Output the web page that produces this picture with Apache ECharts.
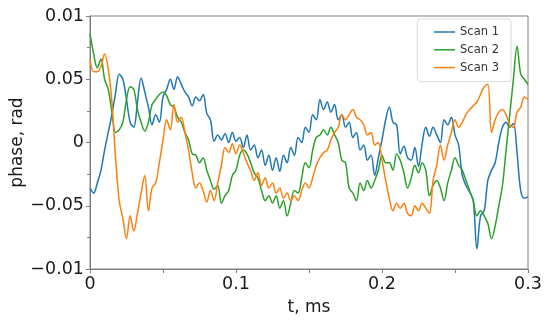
<!DOCTYPE html>
<html>
<head>
<meta charset="utf-8">
<script src="https://cdn.jsdelivr.net/npm/echarts@6/dist/echarts.min.js"></script>
<style>html,body{margin:0;padding:0;background:#fff}#c{width:550px;height:322px}</style>
</head>
<body>
<div id="c"></div>
<script>
// sampling grid of the curves (t, ms)
const tStart = 0, tStep = 0.0025, nPoints = 121;
const seriesNames = ['Scan 1', 'Scan 2', 'Scan 3'];
const seriesColors = ['#1f77b4', '#2ca02c', '#ff7f0e'];
const scan1 = [
-0.036,-0.040,-0.032,-0.022,-0.006,0.008,0.022,0.039,0.054,0.050,
0.034,0.016,0.012,0.032,0.051,0.040,0.028,0.014,0.022,0.016,
0.036,0.042,0.050,0.042,0.052,0.046,0.040,0.036,0.029,0.036,
0.033,0.038,0.023,0.018,0.001,0.006,0.002,0.007,0.000,0.008,
0.001,0.004,-0.004,0.006,-0.006,-0.002,-0.012,-0.006,-0.018,-0.010,
-0.022,-0.012,-0.023,-0.010,-0.016,-0.004,-0.010,0.004,0.000,0.012,
0.008,0.022,0.018,0.034,0.026,0.032,0.024,0.030,0.018,0.022,
0.012,0.016,0.004,0.008,-0.006,-0.002,-0.014,-0.010,-0.026,-0.012,
0.002,0.018,0.028,0.016,0.014,-0.009,-0.003,-0.012,-0.014,-0.004,
-0.019,-0.001,0.012,0.005,0.012,0.006,0.000,0.018,0.014,0.020,
0.006,-0.002,-0.026,-0.034,-0.039,-0.046,-0.084,-0.058,-0.054,-0.030,
-0.022,-0.016,0.000,0.012,0.016,0.012,0.015,-0.008,-0.038,-0.044,
-0.043];
const scan2 = [
0.086,0.070,0.059,0.066,0.050,0.042,0.024,0.008,0.010,0.016,
0.034,0.044,0.042,0.026,0.016,0.009,0.016,0.030,0.034,0.038,
0.040,0.037,0.030,0.028,0.020,0.016,0.008,0.002,-0.009,-0.010,
-0.016,-0.012,-0.022,-0.030,-0.037,-0.034,-0.048,-0.042,-0.038,-0.026,
-0.022,-0.010,-0.006,-0.009,-0.016,-0.024,-0.028,-0.038,-0.046,-0.042,
-0.048,-0.042,-0.052,-0.046,-0.058,-0.048,-0.038,-0.040,-0.028,-0.016,
-0.020,-0.006,0.004,0.006,0.010,0.006,0.012,0.006,0.000,-0.014,
-0.016,-0.036,-0.040,-0.046,-0.032,-0.038,-0.030,-0.036,-0.030,-0.022,
-0.010,-0.016,-0.016,-0.022,-0.009,-0.014,-0.024,-0.036,-0.028,-0.018,
-0.024,-0.016,-0.022,-0.042,-0.034,-0.030,-0.036,-0.046,-0.032,-0.022,
-0.012,-0.018,-0.022,-0.030,-0.038,-0.046,-0.058,-0.054,-0.058,-0.064,
-0.076,-0.066,-0.050,-0.034,-0.006,0.022,0.050,0.076,0.054,0.050,
0.046];
const scan3 = [
0.066,0.056,0.056,0.060,0.070,0.058,0.032,-0.012,-0.046,-0.060,
-0.076,-0.058,-0.070,-0.056,-0.040,-0.026,-0.054,-0.036,-0.032,-0.016,
0.002,0.018,0.010,0.030,0.016,0.020,0.008,-0.006,-0.024,-0.036,
-0.032,-0.038,-0.047,-0.038,-0.046,-0.032,-0.018,-0.004,-0.008,-0.001,
-0.009,-0.002,-0.008,-0.016,-0.022,-0.030,-0.024,-0.034,-0.028,-0.036,
-0.032,-0.040,-0.036,-0.044,-0.040,-0.046,-0.042,-0.046,-0.038,-0.032,
-0.036,-0.028,-0.018,-0.012,-0.008,-0.006,0.002,0.008,0.012,0.022,
0.018,0.022,0.026,0.020,0.018,0.014,0.006,0.008,-0.002,0.000,
-0.014,-0.030,-0.044,-0.054,-0.048,-0.052,-0.048,-0.056,-0.058,-0.050,
-0.054,-0.048,-0.052,-0.056,-0.030,-0.018,-0.002,-0.014,-0.002,0.008,
0.018,0.012,0.016,0.022,0.026,0.029,0.032,0.038,0.044,0.046,
0.008,0.018,0.024,0.026,0.022,0.014,0.012,0.024,0.028,0.036,
0.034];
const xTickValues = [0, 0.1, 0.2, 0.3];
const xTickLabels = ['0', '0.1', '0.2', '0.3'];
const yTickValues = [-0.1, -0.05, 0, 0.05, 0.1];
const yTickLabels = ['\u22120.01', '\u22120.05', '0', '0.05', '0.01'];

const tValues = [];
for (let i = 0; i < nPoints; i++) tValues.push(+(tStart + i * tStep).toFixed(4));
const allScans = [scan1, scan2, scan3];

function lookup(vals, labels, v) {
  let best = 0;
  for (let k = 1; k < vals.length; k++) if (Math.abs(vals[k] - v) < Math.abs(vals[best] - v)) best = k;
  return Math.abs(vals[best] - v) < 1e-9 ? labels[best] : '';
}

const FONT = 'DejaVu Sans';
const axisGray = '#808080';
const chart = echarts.init(document.getElementById('c'), null, {renderer: 'canvas'});
chart.setOption({
  animation: false,
  backgroundColor: '#fff',
  textStyle: {fontFamily: FONT},
  grid: {left: 90, right: 22, top: 16, bottom: 53, show: true, borderColor: axisGray, borderWidth: 1,
         containLabel: false, outerBoundsMode: 'none'},
  legend: {
    data: seriesNames,
    orient: 'vertical',
    right: 39, top: 19,
    backgroundColor: '#fff',
    borderColor: '#dcdcdc', borderWidth: 1, borderRadius: 3,
    padding: [7, 12, 8, 16],
    itemWidth: 21, itemHeight: 12, itemGap: 5.8,
    itemStyle: {opacity: 0, borderWidth: 0},
    lineStyle: {width: 1.5},
    textStyle: {fontFamily: FONT, fontSize: 11.5, color: '#333'}
  },
  xAxis: {
    type: 'value', min: 0, max: 0.3, interval: 0.1,
    name: 't, ms', nameLocation: 'middle', nameGap: 30, nameMoveOverlap: false,
    nameTextStyle: {fontFamily: FONT, fontSize: 17, color: '#1a1a1a'},
    axisLine: {show: true, onZero: false, lineStyle: {color: axisGray, width: 1}},
    axisTick: {show: true, length: 4, lineStyle: {color: axisGray}},
    minorTick: {show: true, splitNumber: 2, length: 4, lineStyle: {color: axisGray}},
    axisLabel: {margin: 6, fontFamily: FONT, fontSize: 17.5, color: '#1a1a1a',
      formatter: v => lookup(xTickValues, xTickLabels, v)},
    splitLine: {show: false}
  },
  yAxis: {
    type: 'value', min: -0.1, max: 0.1, interval: 0.05,
    name: 'phase, rad', nameLocation: 'middle', nameGap: 64, nameMoveOverlap: false,
    nameTextStyle: {fontFamily: FONT, fontSize: 17, color: '#1a1a1a'},
    axisLine: {show: true, onZero: false, lineStyle: {color: axisGray, width: 1}},
    axisTick: {show: true, length: 4, lineStyle: {color: axisGray}},
    minorTick: {show: true, splitNumber: 2, length: 3, lineStyle: {color: axisGray}},
    axisLabel: {margin: 6, fontFamily: FONT, fontSize: 17.5, color: '#1a1a1a',
      formatter: v => lookup(yTickValues, yTickLabels, v)},
    splitLine: {show: false}
  },
  series: allScans.map((arr, k) => ({
    name: seriesNames[k],
    type: 'line',
    data: tValues.map((t, i) => [t, arr[i]]),
    symbol: 'none',
    smooth: 0.35,
    lineStyle: {color: seriesColors[k], width: 1.5},
    itemStyle: {color: seriesColors[k]},
    z: 2 + k
  }))
});
</script>
</body>
</html>
